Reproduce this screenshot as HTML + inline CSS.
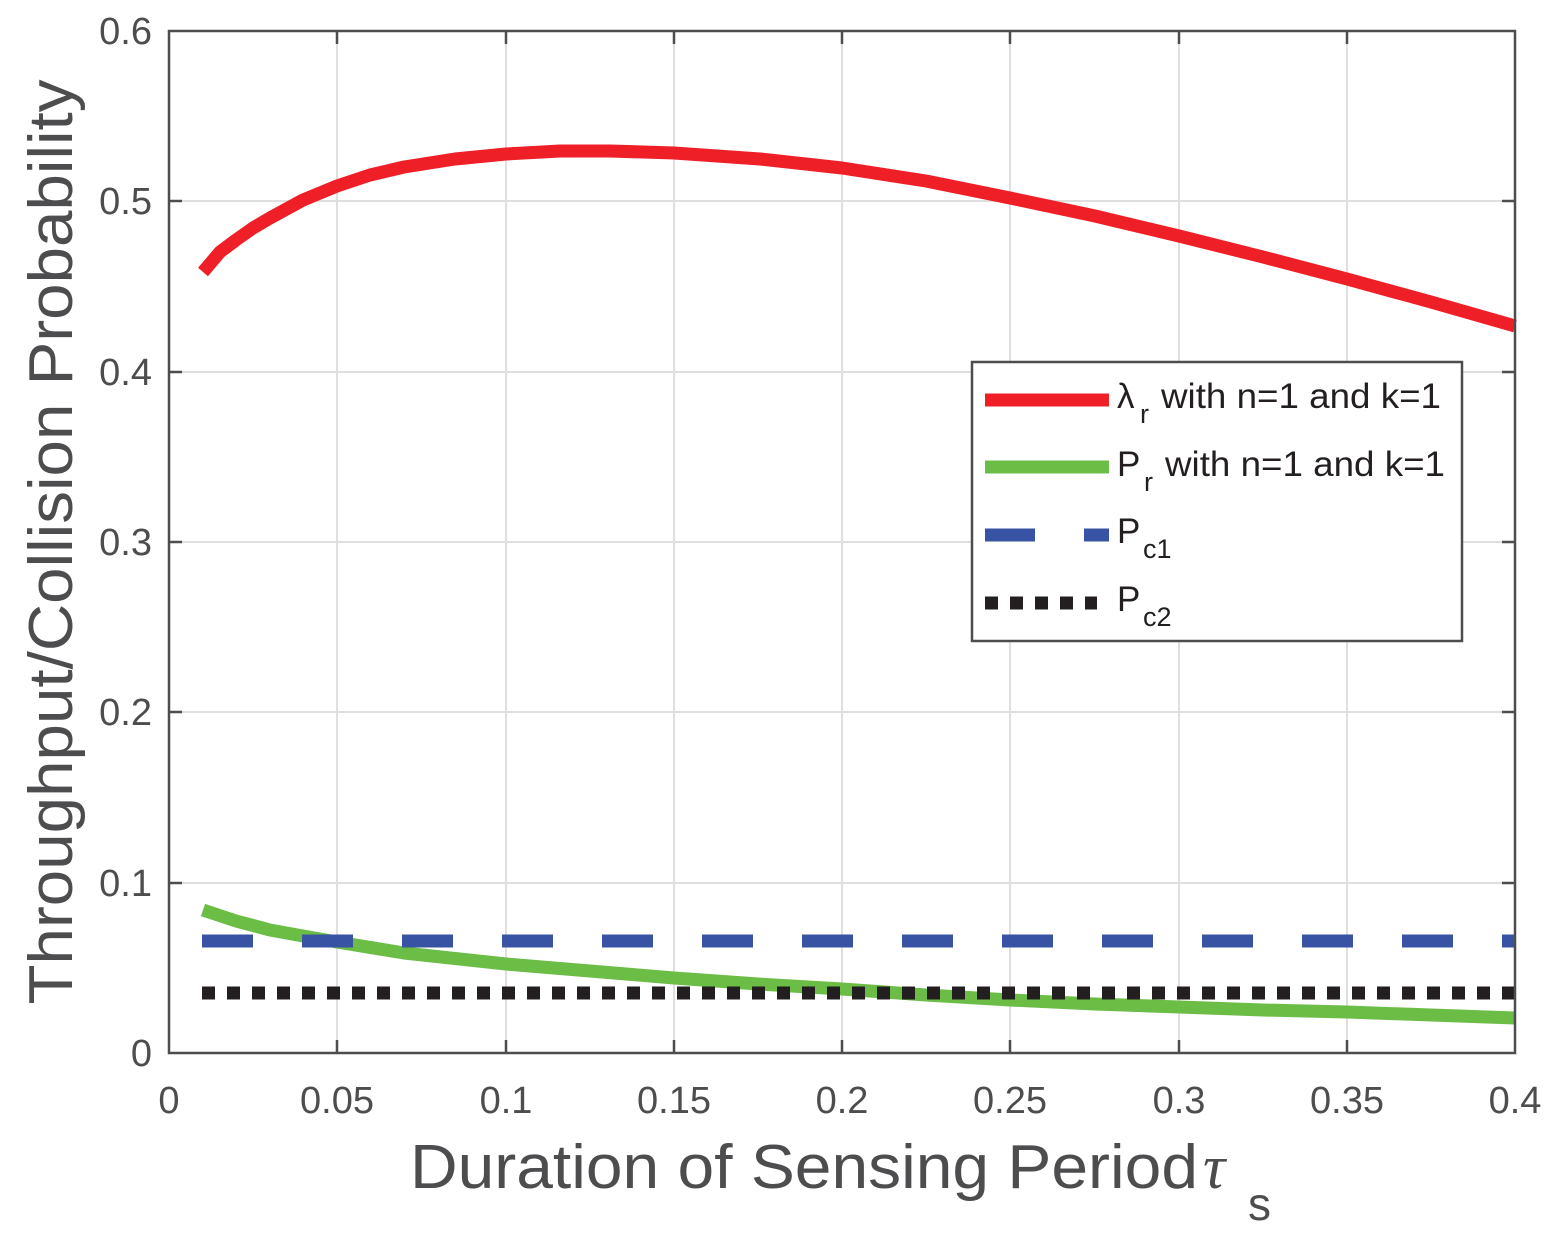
<!DOCTYPE html>
<html><head><meta charset="utf-8"><style>body{margin:0;background:#fff}svg{display:block}</style></head><body>
<svg width="1552" height="1236" xmlns="http://www.w3.org/2000/svg" font-family="Liberation Sans, Arial, sans-serif">
<rect width="1552" height="1236" fill="#fff"/>
<g stroke="#dfdfe0" stroke-width="2">
<line x1="337" y1="31" x2="337" y2="1053"/><line x1="506" y1="31" x2="506" y2="1053"/><line x1="674" y1="31" x2="674" y2="1053"/><line x1="842" y1="31" x2="842" y2="1053"/><line x1="1010" y1="31" x2="1010" y2="1053"/><line x1="1179" y1="31" x2="1179" y2="1053"/><line x1="1347" y1="31" x2="1347" y2="1053"/>
<line x1="169" y1="883" x2="1515" y2="883"/><line x1="169" y1="712" x2="1515" y2="712"/><line x1="169" y1="542" x2="1515" y2="542"/><line x1="169" y1="372" x2="1515" y2="372"/><line x1="169" y1="201" x2="1515" y2="201"/>
</g>
<path d="M203,272 L220,252 L236,240 L253,228 L270,218 L303,200 L337,186 L370,175 L404,167 L455,159 L506,154 L560,151 L610,151 L674,153 L760,159 L842,168 L926,181 L1010,198 L1095,216 L1179,236 L1263,257 L1347,279 L1431,302 L1515,326" fill="none" stroke="#ee1f27" stroke-width="13" stroke-linejoin="round"/>
<path d="M203,910 L236,921 L270,930 L303,936 L337,942 L404,953 L506,964 L590,971 L674,978 L758,984 L842,989 L926,995 L1010,1000 L1095,1004 L1179,1007 L1263,1010 L1347,1012 L1431,1015 L1515,1018" fill="none" stroke="#6bbd45" stroke-width="13" stroke-linejoin="round"/>
<line x1="202" y1="941" x2="1515" y2="941" stroke="#3953a4" stroke-width="13" stroke-dasharray="51 49"/>
<line x1="202" y1="993" x2="1515" y2="993" stroke="#231f20" stroke-width="13" stroke-dasharray="13 12"/>
<rect x="169" y="31" width="1346" height="1022" fill="none" stroke="#4d4d4f" stroke-width="2.5"/>
<g stroke="#4d4d4f" stroke-width="2.5">
<line x1="337" y1="1053" x2="337" y2="1040"/><line x1="506" y1="1053" x2="506" y2="1040"/><line x1="674" y1="1053" x2="674" y2="1040"/><line x1="842" y1="1053" x2="842" y2="1040"/><line x1="1010" y1="1053" x2="1010" y2="1040"/><line x1="1179" y1="1053" x2="1179" y2="1040"/><line x1="1347" y1="1053" x2="1347" y2="1040"/>
<line x1="337" y1="31" x2="337" y2="44"/><line x1="506" y1="31" x2="506" y2="44"/><line x1="674" y1="31" x2="674" y2="44"/><line x1="842" y1="31" x2="842" y2="44"/><line x1="1010" y1="31" x2="1010" y2="44"/><line x1="1179" y1="31" x2="1179" y2="44"/><line x1="1347" y1="31" x2="1347" y2="44"/>
<line x1="169" y1="883" x2="182" y2="883"/><line x1="169" y1="712" x2="182" y2="712"/><line x1="169" y1="542" x2="182" y2="542"/><line x1="169" y1="372" x2="182" y2="372"/><line x1="169" y1="201" x2="182" y2="201"/>
<line x1="1515" y1="883" x2="1502" y2="883"/><line x1="1515" y1="712" x2="1502" y2="712"/><line x1="1515" y1="542" x2="1502" y2="542"/><line x1="1515" y1="372" x2="1502" y2="372"/><line x1="1515" y1="201" x2="1502" y2="201"/>
</g>
<g fill="#4d4d4f" font-size="38" text-anchor="middle">
<text x="169" y="1113">0</text><text x="337" y="1113">0.05</text><text x="506" y="1113">0.1</text><text x="674" y="1113">0.15</text><text x="842" y="1113">0.2</text><text x="1010" y="1113">0.25</text><text x="1179" y="1113">0.3</text><text x="1347" y="1113">0.35</text><text x="1515" y="1113">0.4</text>
</g>
<g fill="#4d4d4f" font-size="38" text-anchor="end">
<text x="152" y="1066">0</text><text x="152" y="896">0.1</text><text x="152" y="725">0.2</text><text x="152" y="555">0.3</text><text x="152" y="385">0.4</text><text x="152" y="214">0.5</text><text x="152" y="44">0.6</text>
</g>
<text x="410" y="1188" font-size="62" fill="#4d4d4f" textLength="788" lengthAdjust="spacingAndGlyphs">Duration of Sensing Period</text>
<text x="1203" y="1188" font-size="62" fill="#4d4d4f" font-family="Liberation Serif, serif" font-style="italic">τ</text>
<text x="1248" y="1220" font-size="46" fill="#4d4d4f">s</text>
<text transform="translate(72,542) rotate(-90)" font-size="62" fill="#4d4d4f" text-anchor="middle" textLength="925" lengthAdjust="spacingAndGlyphs">Throughput/Collision Probability</text>
<rect x="972" y="362" width="490" height="279" fill="#fff" stroke="#4d4d4f" stroke-width="2.5"/>
<line x1="985" y1="400" x2="1109" y2="400" stroke="#ee1f27" stroke-width="13"/>
<line x1="985" y1="467" x2="1109" y2="467" stroke="#6bbd45" stroke-width="13"/>
<line x1="985" y1="535" x2="1109" y2="535" stroke="#3953a4" stroke-width="13" stroke-dasharray="50 49"/>
<line x1="985" y1="603" x2="1097" y2="603" stroke="#231f20" stroke-width="13" stroke-dasharray="13 12"/>
<g fill="#231f20" font-size="35">
<text x="1117" y="408">λ</text><text x="1140" y="423" font-size="27">r</text>
<text x="1161" y="408" textLength="280" lengthAdjust="spacingAndGlyphs">with n=1 and k=1</text>
<text x="1117" y="476">P</text><text x="1144" y="491" font-size="27">r</text>
<text x="1165" y="476" textLength="280" lengthAdjust="spacingAndGlyphs">with n=1 and k=1</text>
<text x="1117" y="543">P</text><text x="1143" y="558" font-size="27">c1</text>
<text x="1117" y="611">P</text><text x="1143" y="626" font-size="27">c2</text>
</g>
</svg>
</body></html>
